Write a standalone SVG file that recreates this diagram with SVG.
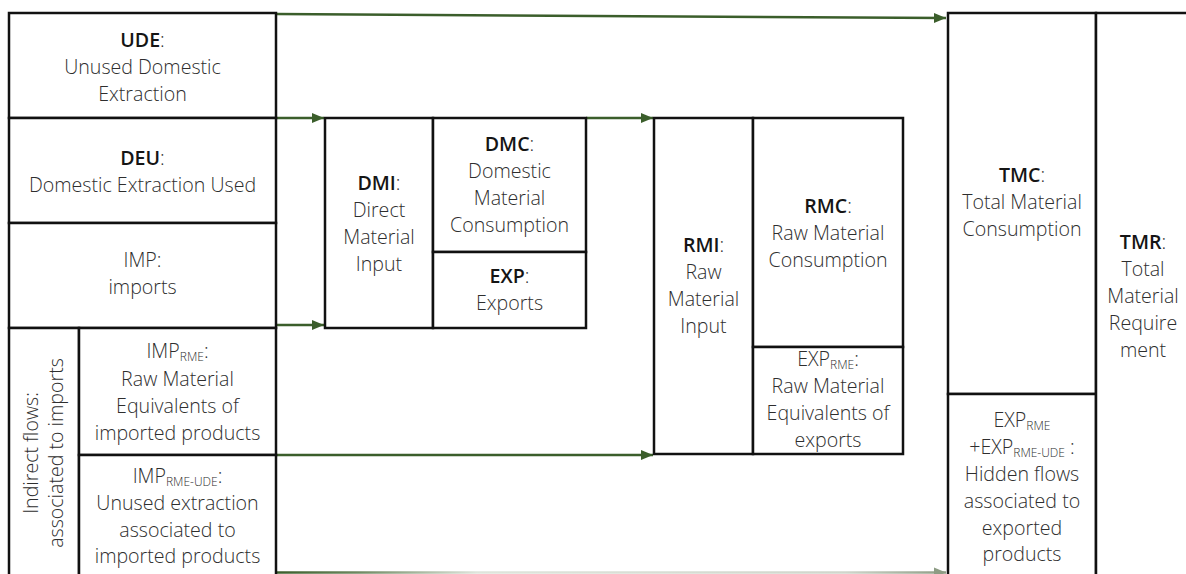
<svg xmlns="http://www.w3.org/2000/svg" width="1186" height="574" viewBox="0 0 1186 574">
<style>
.box{fill:#fff;stroke:#111;stroke-width:2.5}
.t{font-family:"Open Sans","Liberation Sans",sans-serif;font-size:19.6px;font-weight:300;fill:#2e2e2e;text-anchor:middle}
.b{font-weight:600;fill:#151515}
.s{font-size:12px}
.arr{stroke:#3b5e2b;stroke-width:2.5;fill:none;marker-end:url(#ah)}
</style>
<defs>
<marker id="ah" markerUnits="userSpaceOnUse" markerWidth="13" markerHeight="11" refX="12" refY="5.5" orient="auto"><path d="M0,0.5 L12,5.5 L0,10.5 z" fill="#3b5e2b"/></marker>
<marker id="ahf" markerUnits="userSpaceOnUse" markerWidth="13" markerHeight="11" refX="12" refY="5.5" orient="auto"><path d="M0,0.5 L12,5.5 L0,10.5 z" fill="#8d9c84"/></marker>
<linearGradient id="fade" gradientUnits="userSpaceOnUse" x1="276" y1="0" x2="946" y2="0">
<stop offset="0" stop-color="#3b5e2b"/><stop offset="0.12" stop-color="#6e8860"/><stop offset="0.3" stop-color="#dfe5dc"/><stop offset="0.85" stop-color="#d0d6cc"/><stop offset="1" stop-color="#8d9c84"/>
</linearGradient>
</defs>
<rect width="1186" height="574" fill="#fff"/>

<g id="connectors">
<line class="arr" x1="276" y1="14" x2="946" y2="18"/>
<line class="arr" x1="276" y1="118" x2="324" y2="118"/>
<line class="arr" x1="586" y1="118" x2="653" y2="118"/>
<line class="arr" x1="276" y1="325" x2="324" y2="325"/>
<line class="arr" x1="276" y1="455" x2="653" y2="455"/>
<line x1="276" y1="572.5" x2="946" y2="572.5" stroke="url(#fade)" stroke-width="2.5" marker-end="url(#ahf)"/>
</g>

<g id="UDE">
<rect class="box" x="9" y="13" width="267" height="105"/>
<text class="t" x="142.5" y="47"><tspan class="b">UDE</tspan>:</text>
<text class="t" x="142.5" y="74">Unused Domestic</text>
<text class="t" x="142.5" y="101">Extraction</text>
</g>

<g id="DEU">
<rect class="box" x="9" y="118" width="267" height="105"/>
<text class="t" x="142.5" y="165"><tspan class="b">DEU</tspan>:</text>
<text class="t" x="142.5" y="192">Domestic Extraction Used</text>
</g>

<g id="IMP">
<rect class="box" x="9" y="223" width="267" height="105"/>
<text class="t" x="142.5" y="267">IMP:</text>
<text class="t" x="142.5" y="294">imports</text>
</g>

<g id="indirect">
<rect class="box" x="9" y="328" width="70" height="252"/>
<text class="t" transform="translate(38,453) rotate(-90)" x="0" y="0">Indirect flows:</text>
<text class="t" transform="translate(63,453) rotate(-90)" x="0" y="0">associated to imports</text>
</g>

<g id="IMP_RME">
<rect class="box" x="79" y="328" width="197" height="127"/>
<text class="t" x="177.5" y="358">IMP<tspan class="s" dy="2.5">RME</tspan><tspan dy="-2.5">:</tspan></text>
<text class="t" x="177.5" y="386">Raw Material</text>
<text class="t" x="177.5" y="413">Equivalents of</text>
<text class="t" x="177.5" y="440">imported products</text>
</g>

<g id="IMP_RME_UDE">
<rect class="box" x="79" y="455" width="197" height="125"/>
<text class="t" x="177.5" y="483">IMP<tspan class="s" dy="2.5">RME-UDE</tspan><tspan dy="-2.5">:</tspan></text>
<text class="t" x="177.5" y="510">Unused extraction</text>
<text class="t" x="177.5" y="537">associated to</text>
<text class="t" x="177.5" y="563">imported products</text>
</g>

<g id="DMI">
<rect class="box" x="325" y="118" width="108" height="210"/>
<text class="t" x="379" y="190"><tspan class="b">DMI</tspan>:</text>
<text class="t" x="379" y="217">Direct</text>
<text class="t" x="379" y="244">Material</text>
<text class="t" x="379" y="271">Input</text>
</g>

<g id="DMC">
<rect class="box" x="433" y="118" width="153" height="134"/>
<text class="t" x="509.5" y="151"><tspan class="b">DMC</tspan>:</text>
<text class="t" x="509.5" y="178">Domestic</text>
<text class="t" x="509.5" y="205">Material</text>
<text class="t" x="509.5" y="232">Consumption</text>
</g>

<g id="EXP">
<rect class="box" x="433" y="252" width="153" height="76"/>
<text class="t" x="509.5" y="283"><tspan class="b">EXP</tspan>:</text>
<text class="t" x="509.5" y="310">Exports</text>
</g>

<g id="RMI">
<rect class="box" x="654" y="118" width="99" height="336"/>
<text class="t" x="703.5" y="252"><tspan class="b">RMI</tspan>:</text>
<text class="t" x="703.5" y="279">Raw</text>
<text class="t" x="703.5" y="306">Material</text>
<text class="t" x="703.5" y="333">Input</text>
</g>

<g id="RMC">
<rect class="box" x="753" y="118" width="150" height="229"/>
<text class="t" x="828" y="213"><tspan class="b">RMC</tspan>:</text>
<text class="t" x="828" y="240">Raw Material</text>
<text class="t" x="828" y="267">Consumption</text>
</g>

<g id="EXP_RME">
<rect class="box" x="753" y="347" width="150" height="107"/>
<text class="t" x="828" y="366">EXP<tspan class="s" dy="2.5">RME</tspan><tspan dy="-2.5">:</tspan></text>
<text class="t" x="828" y="393">Raw Material</text>
<text class="t" x="828" y="420">Equivalents of</text>
<text class="t" x="828" y="447">exports</text>
</g>

<g id="TMC">
<rect class="box" x="948" y="13" width="148" height="381"/>
<text class="t" x="1022" y="182"><tspan class="b">TMC</tspan>:</text>
<text class="t" x="1022" y="209">Total Material</text>
<text class="t" x="1022" y="236">Consumption</text>
</g>

<g id="hidden">
<rect class="box" x="948" y="394" width="148" height="186"/>
<text class="t" x="1022" y="427">EXP<tspan class="s" dy="2.5">RME</tspan></text>
<text class="t" x="1022" y="454">+EXP<tspan class="s" dy="2.5">RME-UDE</tspan><tspan dy="-2.5"> :</tspan></text>
<text class="t" x="1022" y="481">Hidden flows</text>
<text class="t" x="1022" y="508">associated to</text>
<text class="t" x="1022" y="535">exported</text>
<text class="t" x="1022" y="561">products</text>
</g>

<g id="TMR">
<rect class="box" x="1096" y="13" width="100" height="567"/>
<text class="t" x="1143" y="249"><tspan class="b">TMR</tspan>:</text>
<text class="t" x="1143" y="276">Total</text>
<text class="t" x="1143" y="303">Material</text>
<text class="t" x="1143" y="330">Require</text>
<text class="t" x="1143" y="357">ment</text>
</g>
</svg>
